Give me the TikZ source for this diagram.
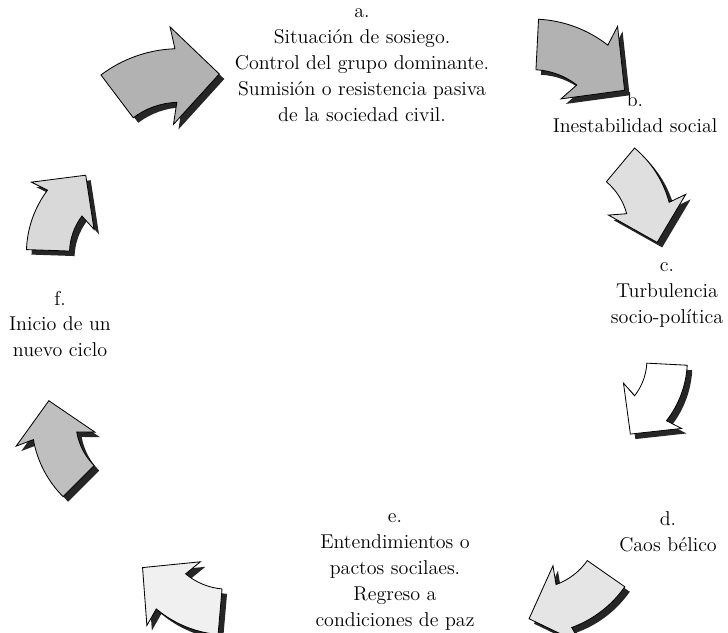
\documentclass[tikz,border=0pt]{standalone}

\newcommand{\arrowpath}{(-0.50,0.026) arc[start angle=125, end angle=90, radius=1.07] -- (0.08,0.40) -- (0.47,0) -- (0.08,-0.40) -- (0.114,-0.22) arc[start angle=90, end angle=125, radius=0.63] -- cycle}
\newcommand{\bentarrow}[5]{%
    \begin{scope}[shift={(#1+5,#2-5)},rotate=#3,scale=#4]
        \fill[arrow shadow] \arrowpath;
    \end{scope}
    \begin{scope}[shift={(#1,#2)},rotate=#3,scale=#4]
        \filldraw[arrow body,fill=#5] \arrowpath;
    \end{scope}}

\begin{document}
\begin{tikzpicture}[x=0.6pt, y=0.6pt,
        lbl/.style={align=center, font=\fontsize{12}{15.5}\selectfont},
        arrow body/.style={draw=black, line width=0.5pt, line join=miter},
        arrow shadow/.style={fill=black!85}]

    \useasboundingbox (0,0) rectangle (728,632);

    \node[lbl] (sosiego) at (362,567) {a.\\Situación de sosiego.\\Control del grupo dominante.\\Sumisión o resistencia pasiva\\de la sociedad civil.};
    \node[lbl] (inestabilidad) at (635,519) {b.\\Inestabilidad social};
    \node[lbl] (turbulencia) at (667,337) {c.\\Turbulencia\\socio-política};
    \node[lbl] (caos) at (668,100) {d.\\Caos bélico};
    \node[lbl] (pactos) at (395,60) {e.\\Entendimientos o\\pactos socilaes.\\Regreso a\\condiciones de paz};
    \node[lbl] (inicio) at (60,308) {f.\\Inicio de un\\nuevo ciclo};

    % the cycle, clockwise
    \bentarrow{162}{556}{2}{122}{gray!60}
    \bentarrow{582}{575}{-38}{115}{gray!60}
    \bentarrow{645}{435}{-75}{100}{gray!25}
    \bentarrow{657}{232}{-128}{92}{white}
    \bentarrow{575}{30}{-160}{104}{gray!20}
    \bentarrow{180}{33}{140}{104}{gray!12}
    \bentarrow{57}{185}{100}{100}{gray!50}
    \bentarrow{58}{420}{53}{98}{gray!30}
\end{tikzpicture}
\end{document}
